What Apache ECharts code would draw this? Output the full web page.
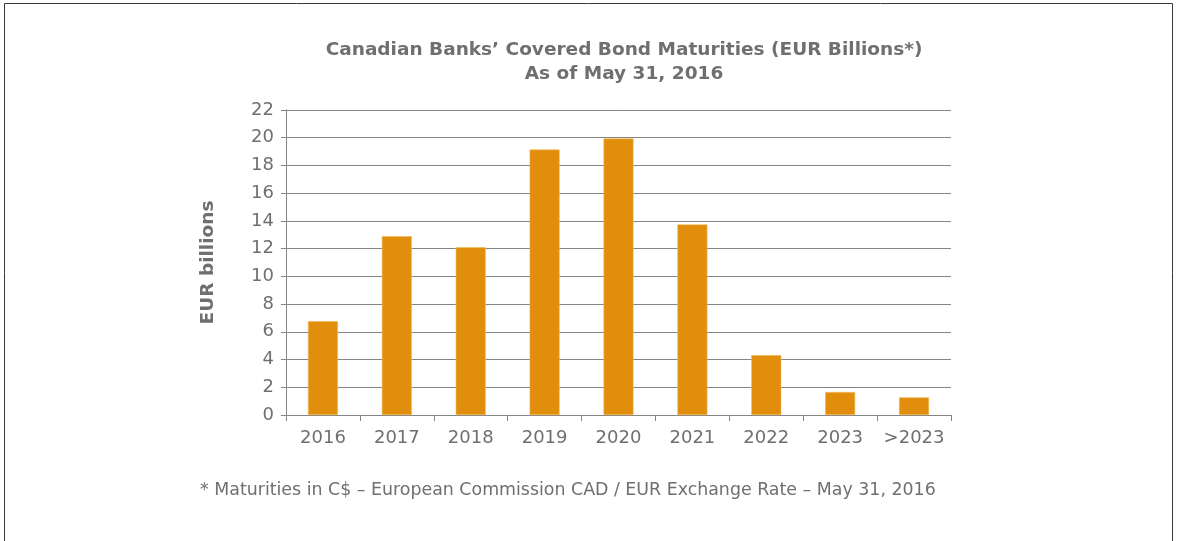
<!DOCTYPE html>
<html>
<head>
<meta charset="utf-8">
<title>Canadian Banks' Covered Bond Maturities</title>
<script src="https://cdn.jsdelivr.net/npm/echarts@6/dist/echarts.min.js"></script>
<style>
  html, body { margin: 0; padding: 0; background: #fff; }
  #chart { width: 1177px; height: 541px; }
</style>
</head>
<body>
<div id="chart"></div>
<script>
var years = ['2016', '2017', '2018', '2019', '2020', '2021', '2022', '2023', '>2023'];
var maturities = [6.77, 12.9, 12.1, 19.15, 19.95, 13.75, 4.32, 1.66, 1.27];
var titleLines = ['Canadian Banks\u2019 Covered Bond Maturities (EUR Billions*)', 'As of May 31, 2016'];
var footnote = '* Maturities in C$ \u2013 European Commission CAD / EUR Exchange Rate \u2013 May 31, 2016';

var chart = echarts.init(document.getElementById('chart'));
var grey = '#6f6f6f';
var font = 'DejaVu Sans, Verdana, sans-serif';

chart.setOption({
  animation: false,
  title: {
    text: titleLines.join('\n'),
    left: 619,
    top: 33,
    textAlign: 'center',
    textStyle: { fontFamily: font, fontSize: 18.5, fontWeight: 'bold', color: grey, lineHeight: 24 }
  },
  graphic: [
    {
      type: 'rect',
      shape: { x: 4.5, y: 3.5, width: 1168, height: 560 },
      style: { fill: 'none', stroke: '#3a3a3a', lineWidth: 1 },
      silent: true
    },
    {
      type: 'text',
      left: 200,
      top: 482,
      style: { text: footnote, fontFamily: font, fontSize: 17.4, fill: grey }
    }
  ],
  grid: { left: 286, right: 226, top: 110, bottom: 126 },
  xAxis: {
    type: 'category',
    data: years,
    axisLine: { lineStyle: { color: '#858585', width: 1 } },
    axisTick: { show: true, length: 6, lineStyle: { color: '#858585' } },
    axisLabel: { interval: 0, fontFamily: font, fontSize: 18, color: grey, margin: 14 }
  },
  yAxis: {
    type: 'value',
    min: 0,
    max: 22,
    interval: 2,
    name: 'EUR billions',
    nameLocation: 'middle',
    nameGap: 68,
    nameTextStyle: { fontFamily: font, fontSize: 18.5, fontWeight: 'bold', color: grey },
    axisLine: { show: true, lineStyle: { color: '#858585', width: 1 } },
    axisTick: { show: true, length: 5, lineStyle: { color: '#858585' } },
    axisLabel: { fontFamily: font, fontSize: 18, color: grey, margin: 12 },
    splitLine: { lineStyle: { color: '#858585', width: 1 } }
  },
  series: [{
    type: 'bar',
    data: maturities,
    barWidth: 30,
    itemStyle: { color: '#e08e0b', borderColor: '#f2b85a', borderWidth: 0.6 }
  }]
});
</script>
</body>
</html>
